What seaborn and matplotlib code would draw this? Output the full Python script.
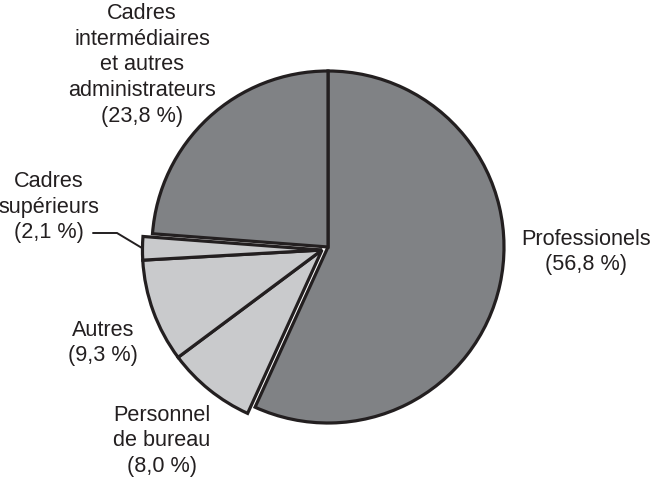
import numpy as np
import matplotlib
matplotlib.use("Agg")
import matplotlib.pyplot as plt
import seaborn as sns

# Data
CATEGORIES = ["Professionels", "Personnel\nde bureau", "Autres",
              "Cadres\nsupérieurs", "Cadres\nintermédiaires\net autres\nadministrateurs"]
SHARES = [56.8, 8.0, 9.3, 2.1, 23.8]
GROUP = ["dark", "light", "light", "light", "dark"]

DARK = "#808285"
LIGHT = "#c9cacc"
INK = "#231f20"

sns.set_style("white")
plt.rcParams["font.family"] = ["Liberation Sans", "DejaVu Sans"]

# pixel -> data helpers (pie radius 1 == 176 px, centre at (328, 247) px)
R_PX = 176.0
CX, CY = 328.0, 247.0
W, H = 650, 480


def px(x, y):
    return (x - CX) / R_PX, (CY - y) / R_PX


def fmt_label(name, share):
    return f"{name}\n({share:.1f} %)".replace(".", ",")


fig = plt.figure(figsize=(W / 100, H / 100), dpi=100)
ax = fig.add_axes([0, 0, 1, 1])

colors = [DARK if g == "dark" else LIGHT for g in GROUP]
wedges, _ = ax.pie(SHARES, colors=colors, startangle=90, counterclock=False,
                   wedgeprops=dict(edgecolor=INK, linewidth=2.3, joinstyle="miter"))

# pull the light group out together, sharing one apex
offset = px(CX - 6, CY + 3)
for w, g in zip(wedges, GROUP):
    if g == "light":
        w.set_center(offset)
        w.set_radius(1.02)
        w.set_zorder(3)

ax.set_xlim(-CX / R_PX, (W - CX) / R_PX)
ax.set_ylim(-(H - CY) / R_PX, CY / R_PX)
ax.set_aspect("auto")
ax.axis("off")

label_pos = [(586, 252), (162, 441), (103, 343), (49, 207), (142, 65)]
for name, share, (lx, ly) in zip(CATEGORIES, SHARES, label_pos):
    tx, ty = px(lx, ly)
    ax.text(tx, ty, fmt_label(name, share), ha="center", va="center",
            fontsize=15.6, color=INK, linespacing=1.3)

# leader line for the small slice
small = wedges[3]
mid = np.deg2rad((small.theta1 + small.theta2) / 2)
cx, cy = small.center
end = (cx + small.r * np.cos(mid), cy + small.r * np.sin(mid))
p0 = px(93, 233)
p1 = px(117, 233)
ax.plot([p0[0], p1[0], end[0]], [p0[1], p1[1], end[1]], color=INK, lw=1.4,
        solid_joinstyle="miter")

fig.savefig("out.png", dpi=100, facecolor="white")
